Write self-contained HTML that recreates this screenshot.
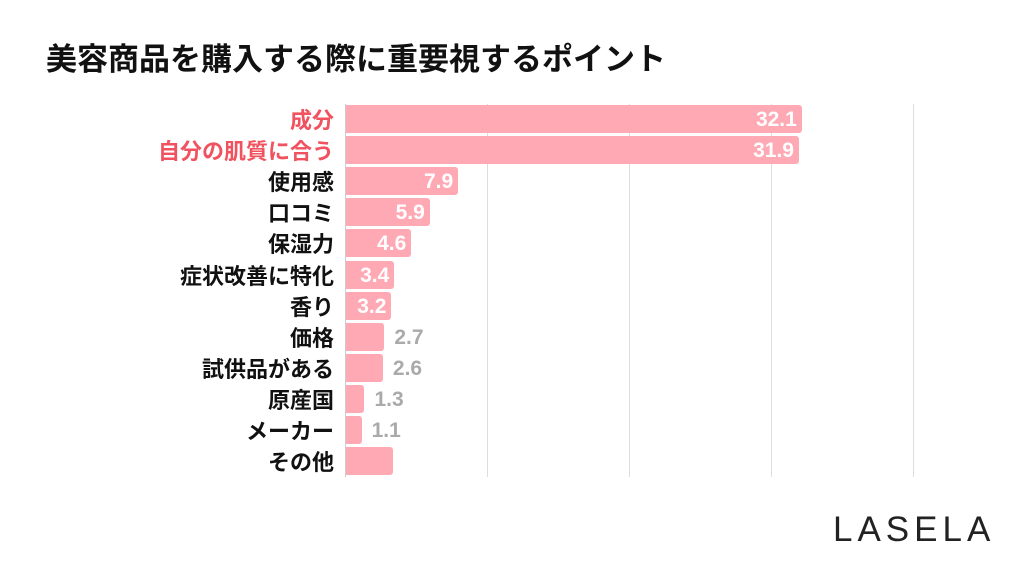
<!DOCTYPE html>
<html><head><meta charset="utf-8"><style>
body{margin:0;width:1024px;height:576px;background:#fff;font-family:"Liberation Sans","Noto Sans CJK JP",sans-serif;position:relative;overflow:hidden}
.t{position:absolute;left:46px;top:40px;font-size:31px;line-height:40px;font-weight:bold;color:#111}
.g{position:absolute;top:104px;height:373px;width:1px;background:#ddd}
.lab{position:absolute;right:690px;font-size:22px;font-weight:bold;color:#111;line-height:28px;white-space:nowrap;margin-top:2px}
.bar{position:absolute;left:346px;height:28px;background:#ffa9b4;border-radius:0 3px 3px 0}
.v{position:absolute;font-size:21px;font-weight:bold;line-height:28px;margin-top:1px}
.logo{position:absolute;left:833px;top:510px;font-size:35px;letter-spacing:5px;color:#222}
</style></head><body>
<div class="t">美容商品を購入する際に重要視するポイント</div>
<div class="g" style="left:345px;background:#ccc"></div>
<div class="g" style="left:487px"></div>
<div class="g" style="left:629px"></div>
<div class="g" style="left:771px"></div>
<div class="g" style="left:913px"></div>
<div id="c"></div>
<script>
var d=[["成分",32.1,1],["自分の肌質に合う",31.9,1],["使用感",7.9],["口コミ",5.9],["保湿力",4.6],["症状改善に特化",3.4],["香り",3.2],["価格",2.7],["試供品がある",2.6],["原産国",1.3],["メーカー",1.1],["その他",3.3,0,1]];
var h="";
d.forEach(function(r,i){var top=105+i*31.1,w=r[1]*14.2;
h+='<div class="lab" style="top:'+top+'px;color:'+(r[2]?'#f0525f':'#111')+'">'+r[0]+'</div>';
h+='<div class="bar" style="top:'+top+'px;width:'+w+'px"></div>';
if(!r[3]){if(r[1]>3){h+='<div class="v" style="top:'+top+'px;right:'+(1024-346-w+5)+'px;color:#fff">'+r[1].toFixed(1)+'</div>';}
else{h+='<div class="v" style="top:'+top+'px;left:'+(346+w+10)+'px;color:#aaa">'+r[1].toFixed(1)+'</div>';}}
});
document.getElementById("c").innerHTML=h;
</script>
<div class="logo">LASELA</div>
</body></html>
